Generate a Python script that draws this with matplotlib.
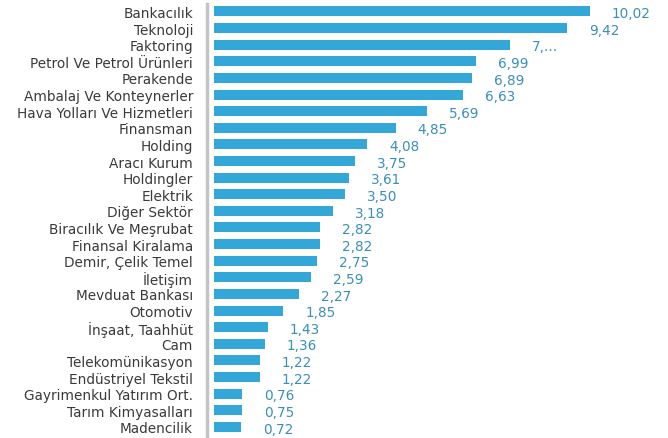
import matplotlib.pyplot as plt

# sektör bazında değerler (yukarıdan aşağıya)
sectors = [
    "Bankacılık", "Teknoloji", "Faktoring", "Petrol Ve Petrol Ürünleri",
    "Perakende", "Ambalaj Ve Konteynerler", "Hava Yolları Ve Hizmetleri",
    "Finansman", "Holding", "Aracı Kurum", "Holdingler", "Elektrik",
    "Diğer Sektör", "Biracılık Ve Meşrubat", "Finansal Kiralama",
    "Demir, Çelik Temel", "İletişim", "Mevduat Bankası", "Otomotiv",
    "İnşaat, Taahhüt", "Cam", "Telekomünikasyon", "Endüstriyel Tekstil",
    "Gayrimenkul Yatırım Ort.", "Tarım Kimyasalları", "Madencilik",
]
values = [10.02, 9.42, 7.89, 6.99, 6.89, 6.63, 5.69, 4.85, 4.08, 3.75,
          3.61, 3.50, 3.18, 2.82, 2.82, 2.75, 2.59, 2.27, 1.85, 1.43,
          1.36, 1.22, 1.22, 0.76, 0.75, 0.72]
value_labels = ["10,02", "9,42", "7,...", "6,99", "6,89", "6,63", "5,69",
                "4,85", "4,08", "3,75", "3,61", "3,50", "3,18", "2,82",
                "2,82", "2,75", "2,59", "2,27", "1,85", "1,43", "1,36",
                "1,22", "1,22", "0,76", "0,75", "0,72"]

bar_color = "#33a8d8"
label_color = "#3a8fba"
text_color = "#3a3a3a"

W, H = 668, 439
fig = plt.figure(figsize=(W / 100, H / 100), dpi=100)
n = len(sectors)
top_px, bot_px = 5, 437
ax = fig.add_axes([207 / W, 1 - bot_px / H, 1 - 207 / W, (bot_px - top_px) / H])

pos = list(range(n))
ax.barh(pos, values, height=0.6, color=bar_color, left=0)

px_per_unit = 37.5
for p, v, lab in zip(pos, values, value_labels):
    ax.text(v + 22 / px_per_unit, p + 0.1, lab, color=label_color,
            fontsize=9.8, va="center", ha="left")

ax.set_xlim(-7 / px_per_unit, (W - 214) / px_per_unit)
ax.set_ylim(n - 1 + 0.55, -0.45)
ax.set_yticks(pos)
ax.set_yticklabels(sectors, fontsize=9.8, color=text_color)
ax.tick_params(axis="y", length=0, pad=10)
ax.set_xticks([])

for s in ["top", "right", "bottom"]:
    ax.spines[s].set_visible(False)
ax.spines["left"].set_color("#c4c4c4")
ax.spines["left"].set_linewidth(2.5)

fig.savefig("out.png", dpi=100)
